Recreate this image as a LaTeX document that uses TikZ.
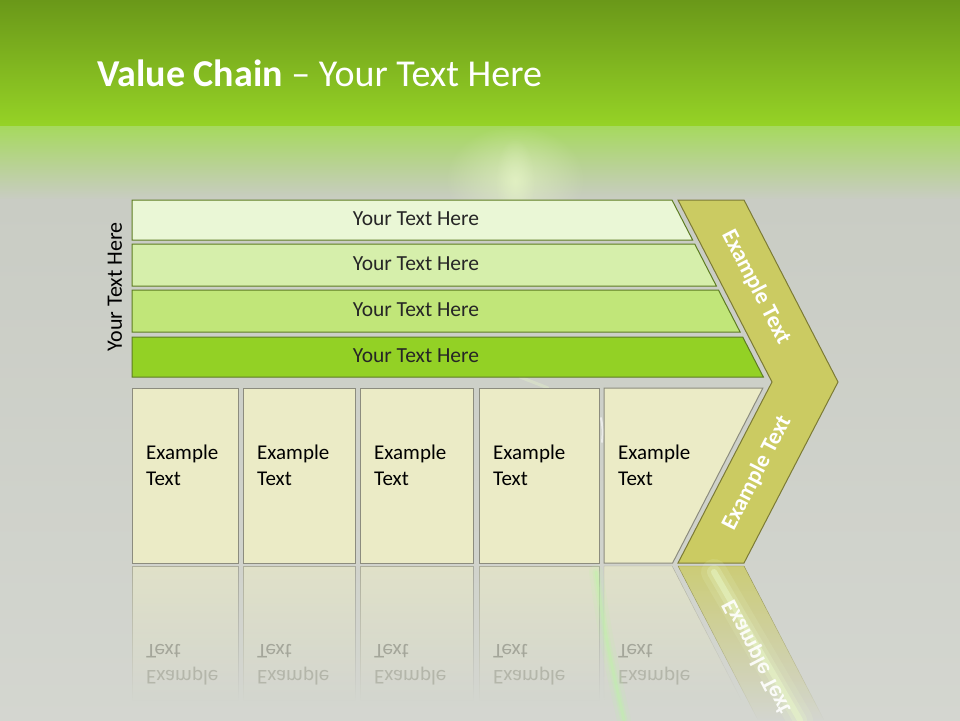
\documentclass[tikz,border=0pt]{standalone}
\usepackage{fontspec}
\setmainfont{Carlito}
\usetikzlibrary{fadings}

\definecolor{hdrtop}{HTML}{6A9819}
\definecolor{hdrbot}{HTML}{96D326}
\definecolor{hdrfade}{HTML}{A6D95E}
\definecolor{bggray}{HTML}{C9CCC4}
\definecolor{barA}{HTML}{EAF7D6}
\definecolor{barB}{HTML}{D6EFAB}
\definecolor{barC}{HTML}{C1E679}
\definecolor{barD}{HTML}{93D125}
\definecolor{barline}{HTML}{5E7D22}
\definecolor{boxfill}{HTML}{EBEBC6}
\definecolor{boxline}{HTML}{8C8C7E}
\definecolor{chevfill}{HTML}{CBCB62}
\definecolor{chevline}{HTML}{7C7B35}
\definecolor{txt}{HTML}{262626}
\definecolor{reflA}{HTML}{A4A69A}
\definecolor{reflB}{HTML}{B4B6AA}
\definecolor{beam}{HTML}{E9F8C8}

\tikzfading[name=softglow, inner color=transparent!0, outer color=transparent!100]

\tikzset{
  bar/.style={draw=barline, line width=1pt},
  cell/.style={draw=boxline, fill=boxfill, line width=1pt},
  bartext/.style={font=\fontsize{21.5}{26}\selectfont, text=txt, inner sep=0pt},
  celltext/.style={font=\fontsize{21}{26}\selectfont, align=left, anchor=west, inner sep=0pt},
  armtext/.style={font=\bfseries\fontsize{23}{26}\selectfont, text=white, inner sep=0pt},
}

\begin{document}
\begin{tikzpicture}[x=1pt, y=-1pt]
  \useasboundingbox (0,0) rectangle (960,720);
  % background
  \shade[top color=hdrtop, bottom color=hdrbot] (0,0) rectangle (960,127);
  \shade[top color=hdrfade, bottom color=bggray] (0,126) rectangle (960,200);
  \shade[top color=bggray, bottom color=bggray!80!white] (0,199) rectangle (960,720);
  % light burst
  \fill[beam, opacity=0.6, path fading=softglow] (515,180) ellipse (70 and 55);
  \fill[beam, opacity=0.5, path fading=softglow] (515,182) ellipse (20 and 45);
  \draw[beam, line width=3pt, opacity=0.35, line cap=round] (520,377) -- (548,388);
  \draw[white, line width=2pt, opacity=0.6, line cap=round] (601,418) .. controls (603,430) .. (602,442);
  % title
  \node[anchor=west, inner sep=0pt, text=white, font=\fontsize{38}{42}\selectfont] (title) at (97,73) {\textbf{Value Chain} – Your Text Here};
  % side label
  \node[rotate=90, inner sep=0pt, font=\fontsize{22}{26}\selectfont] (side) at (115,287) {Your Text Here};
  % slant of the chevron arms
  \def\sl{0.516}
  % rows
  \foreach \ya/\yb/\col [count=\i] in {200/240/barA, 244/286/barB, 290/332/barC, 337/377/barD}{
    \filldraw[bar, fill=\col] (132,\ya) -- ({672+\sl*(\ya-200)},\ya) -- ({672+\sl*(\yb-200)},\yb) -- (132,\yb) -- cycle;
    \node[bartext] (row\i) at (416,{(\ya+\yb)/2-1}) {Your Text Here};
  }
  % cells
  \foreach \xa/\xb [count=\i] in {132/238, 243/355, 360/473, 479/599}{
    \filldraw[cell] (\xa,388) rectangle (\xb,563);
    \node[celltext] (cell\i) at (\xa+14,465) {Example\\Text};
  }
  \filldraw[cell] (604,388) -- ({766-\sl*(388-382)},388) -- ({766-\sl*(563-382)},563) -- (604,563) -- cycle;
  \node[celltext] (cell5) at (618,465) {Example\\Text};
  % chevron
  \filldraw[draw=chevline, fill=chevfill, line width=1pt] (678,200) -- (744,200) -- (838,382) -- (744,563) -- (678,563) -- (772,382) -- cycle;
  \node[armtext, rotate=-62.7] (armup) at (756,287) {Example Text};
  \node[armtext, rotate=62.7] (armdown) at (757,473) {Example Text};
  % reflections
  \foreach \xa/\xb [count=\i] in {132/238, 243/355, 360/473, 479/599}{
    \filldraw[draw=boxline, fill=boxfill, path fading=south, opacity=0.6] (\xa,566) rectangle (\xb,700);
    \node[celltext, yscale=-1] (mirror\i) at (\xa+14,665) {{\color{reflB}Example}\\{\color{reflA}Text}};
  }
  \filldraw[draw=boxline, fill=boxfill, path fading=south, opacity=0.6] (604,566) -- ({766-\sl*(748-566)},566) -- ({766-\sl*(748-700)},700) -- (604,700) -- cycle;
  \node[celltext, yscale=-1] (mirror5) at (618,665) {{\color{reflB}Example}\\{\color{reflA}Text}};
  \filldraw[draw=chevline, fill=chevfill, path fading=south, opacity=0.8] (678,566) -- (744,566) -- (824,720) -- (758,720) -- cycle;
  % beams
  \foreach \w/\o in {26/0.15, 14/0.25, 6/0.5}{
    \draw[beam, line width=\w pt, opacity=\o, line cap=round] (714,572) -- (800,720);
  }
  \foreach \w/\o in {14/0.12, 7/0.2, 3/0.3}{
    \draw[beam!80!green, line width=\w pt, opacity=\o, line cap=round] (596,572) .. controls (606,640) .. (624,720);
  }
  \node[armtext, rotate=-62.7, yscale=-1, text opacity=0.9] (armmirror) at (757,657) {Example Text};
\end{tikzpicture}
\end{document}
